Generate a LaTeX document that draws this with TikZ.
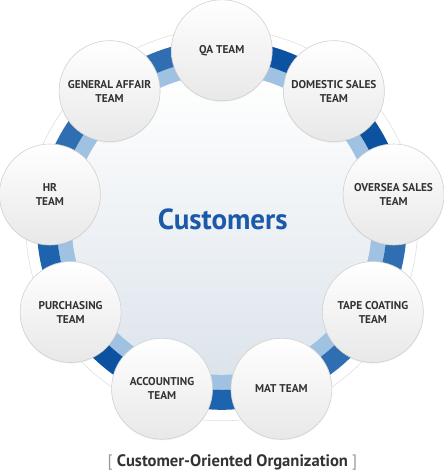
\documentclass[tikz,border=0pt]{standalone}
\usepackage{fontspec}
\setmainfont{PT Sans}
\usetikzlibrary{shadows}
\definecolor{bandlight}{HTML}{A0C2E2}
\definecolor{banddark}{HTML}{0D52A0}
\definecolor{bandmid}{HTML}{1D63AE}
\definecolor{bandsoft}{HTML}{2E6EB1}
\definecolor{custblue}{HTML}{1B5AA8}
\definecolor{labelgray}{HTML}{333333}
\tikzset{
    team/.style={circle, minimum size=101pt, inner sep=0pt, align=center,
        draw=black!18, line width=0.6pt, top color=white, bottom color=black!9,
        drop shadow={opacity=0.12, shadow xshift=0pt, shadow yshift=-1pt},
        font=\bfseries\fontsize{11.3}{14}\selectfont, text=labelgray},
}

\begin{document}
\begin{tikzpicture}[x=1pt, y=1pt]
        \useasboundingbox (-221.75, -247.2) rectangle (222.25, 224.8);

        % ring behind the teams
        \draw [black!12, fill=white, line width=0.6pt] (0, 0) circle [radius=196pt];
        \fill [bandlight] (0, 0) circle [radius=165pt];
        \foreach \a/\c in {70/banddark, 30/banddark, -10/bandsoft, -50/bandsoft, -90/bandmid,
                           -130/banddark, -170/bandmid, 150/bandsoft, 110/bandsoft}
            \fill [\c] (\a-20:165pt) arc [start angle=\a-20, end angle=\a+20, radius=165pt]
                -- (\a+20:185pt) arc [start angle=\a+20, end angle=\a-20, radius=185pt] -- cycle;
        \shade [top color=white, bottom color={rgb,255:red,220;green,228;blue,235}]
            (0, 0) circle [radius=150pt];

        \node (customers) at (1, 5) [font=\bfseries\fontsize{29}{32}\selectfont, text=custblue] {Customers};

        \node (qa) at (90:174.5pt) [team] {QA TEAM};
        \node (domestic) at (50:174.5pt) [team] {DOMESTIC SALES\\TEAM};
        \node (oversea) at (10:174.5pt) [team] {OVERSEA SALES\\TEAM};
        \node (tape) at (-30:174.5pt) [team] {TAPE COATING\\TEAM};
        \node (mat) at (-70:174.5pt) [team] {MAT TEAM};
        \node (accounting) at (-110:174.5pt) [team] {ACCOUNTING\\TEAM};
        \node (purchasing) at (-150:174.5pt) [team] {PURCHASING\\TEAM};
        \node (hr) at (170:174.5pt) [team] {HR\\TEAM};
        \node (general) at (130:174.5pt) [team] {GENERAL AFFAIR\\TEAM};

        \node (caption) at (10.75, -237.2) [font=\bfseries\fontsize{16.6}{19}\selectfont, text=labelgray]
            {{\mdseries\color{black!40}[}\ Customer-Oriented Organization\ {\mdseries\color{black!40}]}};
    \end{tikzpicture}
\end{document}
